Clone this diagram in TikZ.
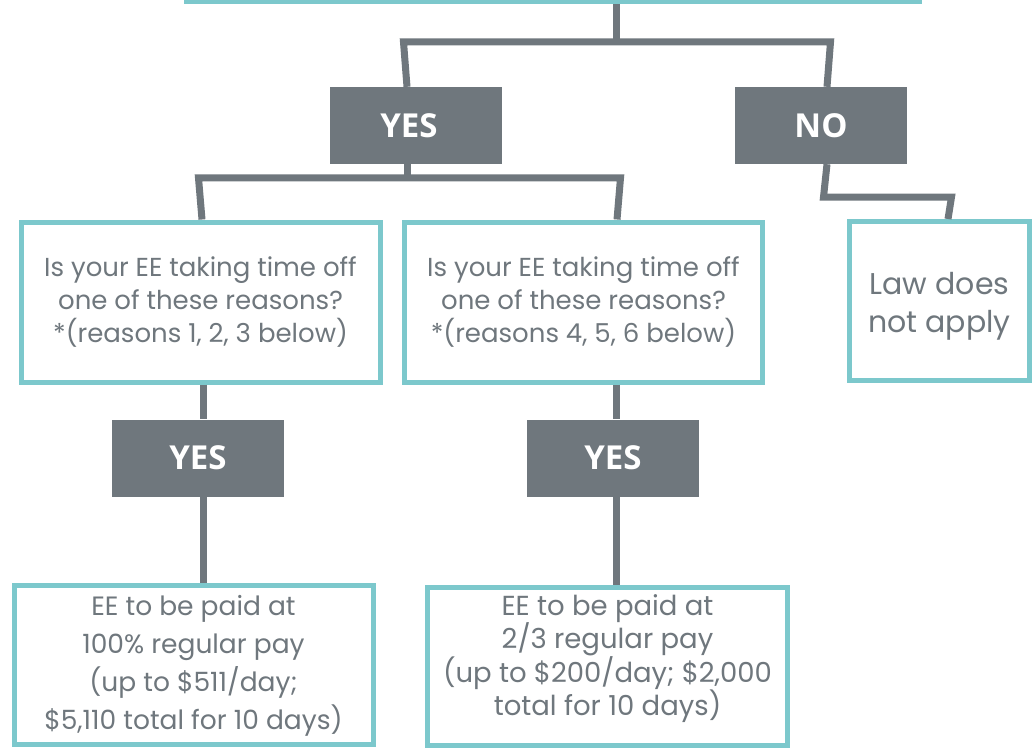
\documentclass[tikz,border=0pt]{standalone}
\usepackage{fontspec}
\setmainfont{Poppins}
\newfontfamily\headfont{Open Sans}
\definecolor{gy}{HTML}{6F777D}
\definecolor{tl}{HTML}{7CC8CC}
\begin{document}
\begin{tikzpicture}[x=1pt,y=-1pt,
  conn/.style={draw=gy,line width=7pt},
  ans/.style={fill=gy,text=white,minimum width=172pt,minimum height=77pt,inner sep=0pt,font=\headfont\bfseries\fontsize{33}{36}\selectfont},
  qbox/.style={draw=tl,line width=5pt,fill=white,text=gy,align=center,inner sep=0pt},
  txt/.style={text=gy,align=center,inner sep=0pt}]
\useasboundingbox (0,0) rectangle (1035,754);
\fill[white] (0,0) rectangle (1035,754);
% top (cut-off) box
\node[qbox,minimum width=733pt,minimum height=100pt,anchor=south] (top) at (553,4.5) {};
% answer boxes
\node[ans] (yes1) at (416,125.5) {\hspace*{-14pt}YES};
\node[ans] (no1) at (821,125.5) {NO};
% question boxes
\node[qbox,font=\fontsize{26}{33}\selectfont,minimum width=359pt,minimum height=160pt] (q1) at (200.5,302) {Is your EE taking time off\\one of these reasons?\\*(reasons 1, 2, 3 below)};
\node[qbox,font=\fontsize{26}{33}\selectfont,minimum width=358pt,minimum height=160pt] (q2) at (583.5,302) {Is your EE taking time off\\one of these reasons?\\*(reasons 4, 5, 6 below)};
\node[qbox,minimum width=180pt,minimum height=159pt,
  label={[txt,font=\fontsize{30}{38}\selectfont,yshift=-5pt]center:{Law does\\not apply}}] (law) at (939.5,301) {};
\node[ans] (yes2) at (198,458) {YES};
\node[ans] (yes3) at (613,458) {YES};
\node[qbox,minimum width=359pt,minimum height=159pt,
  label={[txt,font=\fontsize{26.5}{38}\selectfont,yshift=-1pt]center:{EE to be paid at\\100\% regular pay\\(up to \$511/day;\\\$5,110 total for 10 days)}}] (r1) at (193.5,664.5) {};
\node[qbox,minimum width=360pt,minimum height=158pt,
  label={[txt,font=\fontsize{27.5}{33.5}\selectfont,yshift=8pt]center:{EE to be paid at\\2/3 regular pay\\(up to \$200/day; \$2,000\\total for 10 days)}}] (r2) at (607.5,666.5) {};
% junction coordinates
\coordinate (j0) at (616,42);
\coordinate (jl) at (407,42);
\coordinate (jr) at (827,42);
\coordinate (k0) at (407,178);
\coordinate (kl) at (202,178);
\coordinate (kr) at (617,178);
\coordinate (n0) at (827,197);
\coordinate (nr) at (948,197);
\coordinate (v1) at (203,0);
\coordinate (v2) at (616,0);
% connectors
\draw[conn] (j0 |- top.south) -- (j0);
\draw[conn] (jl |- yes1.north) -- ([xshift=-3.5pt]jl) -- ([xshift=3.5pt]jr) -- (jr |- no1.north);
\draw[conn] (k0 |- yes1.south) -- (k0);
\draw[conn] (kl |- q1.north) -- ([xshift=-3.5pt]kl) -- ([xshift=3.5pt]kr) -- (kr |- q2.north);
\draw[conn] (n0 |- no1.south) -- ([xshift=-3.5pt]n0) -- ([xshift=3.5pt]nr) -- (nr |- law.north);
\draw[conn] (v1 |- q1.south) -- (v1 |- yes2.north);
\draw[conn] (v1 |- yes2.south) -- (v1 |- r1.north);
\draw[conn] (v2 |- q2.south) -- (v2 |- yes3.north);
\draw[conn] (v2 |- yes3.south) -- (v2 |- r2.north);
\end{tikzpicture}
\end{document}
